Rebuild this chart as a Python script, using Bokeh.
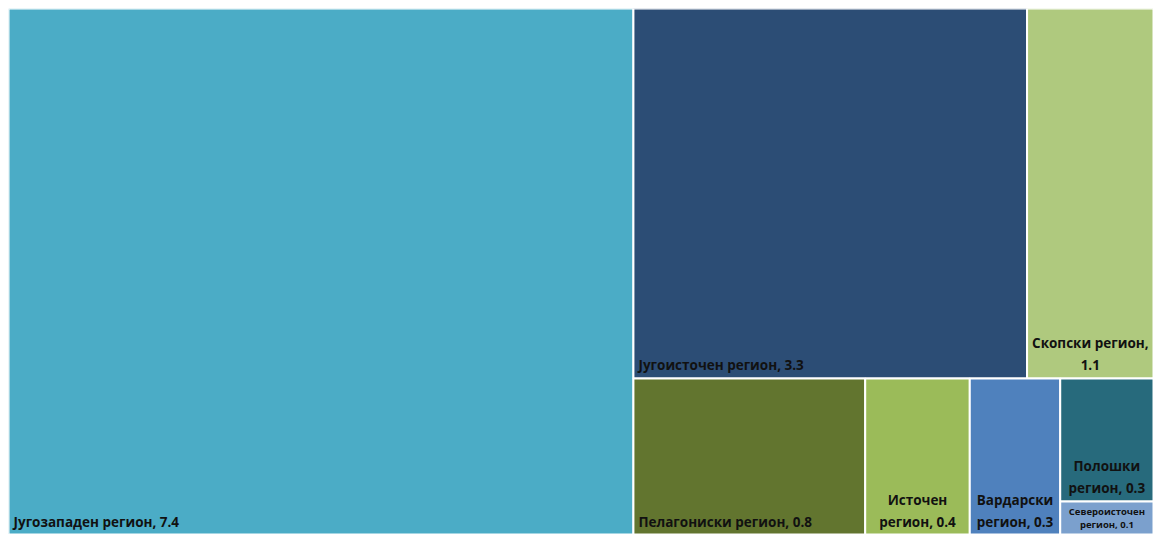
from bokeh.plotting import figure
from bokeh.models import ColumnDataSource, Range1d
from bokeh.core.properties import value
from bokeh.embed import file_html
from bokeh.resources import INLINE

# ---- data ----
regions = ["Југозападен регион", "Југоисточен регион", "Скопски регион",
           "Пелагониски регион", "Источен регион", "Вардарски регион",
           "Полошки регион", "Североисточен регион"]
values = [7.45, 3.30, 1.06, 0.82, 0.37, 0.32, 0.26, 0.07]
labels = ["Југозападен регион, 7.4", "Југоисточен регион, 3.3", "Скопски регион,\n1.1",
          "Пелагониски регион, 0.8", "Источен\nрегион, 0.4", "Вардарски\nрегион, 0.3",
          "Полошки\nрегион, 0.3", "Североисточен\nрегион, 0.1"]
colors = ["#4BACC6", "#2C4D75", "#AFC97E", "#62752F", "#9BBB59", "#4F81BD", "#276A7C", "#7BA0CD"]

# grouping of the treemap (indices into the lists above)
tree = [0, [[1, 2], [3, 4, 5, [6, 7]]]]

W, H = 1145, 526
M = 8


def total(node):
    if isinstance(node, list):
        return sum(total(n) for n in node)
    return values[node]


rects = {}


def layout(node, x0, y0, x1, y1, horizontal):
    if not isinstance(node, list):
        rects[node] = (x0, y0, x1, y1)
        return
    t = total(node)
    if horizontal:
        x = x0
        for n in node:
            w = (x1 - x0) * total(n) / t
            layout(n, x, y0, x + w, y1, not horizontal)
            x += w
    else:
        y = y1  # top down
        for n in node:
            h = (y1 - y0) * total(n) / t
            layout(n, x0, y - h, x1, y, not horizontal)
            y -= h


layout(tree, 0, 0, W, H, True)

n = len(regions)
xs = [(rects[i][0] + rects[i][2]) / 2 for i in range(n)]
ys = [(rects[i][1] + rects[i][3]) / 2 for i in range(n)]
ws = [rects[i][2] - rects[i][0] for i in range(n)]
hs = [rects[i][3] - rects[i][1] for i in range(n)]

p = figure(width=W + M, height=H + M, output_backend="svg", toolbar_location=None,
           x_range=Range1d(0, W), y_range=Range1d(0, H),
           min_border=0, min_border_left=M, min_border_right=0,
           min_border_top=M, min_border_bottom=0)
p.axis.visible = False
p.grid.visible = False
p.outline_line_color = None
p.background_fill_color = "white"
p.border_fill_color = "white"

src = ColumnDataSource(dict(x=xs, y=ys, w=ws, h=hs, c=colors, name=regions))
p.rect(x="x", y="y", width="w", height="h", fill_color="c", line_color="white",
       line_width=2, source=src)

# labels
tx, ty, tt, tyo, talign, tsize = [], [], [], [], [], []
for i in range(n):
    x0, y0, x1, y1 = rects[i]
    lines = labels[i].split("\n")
    small = hs[i] < 50
    lh = 13 if small else 22
    pad = 10 if small else 13
    multi = len(lines) > 1
    for k, line in enumerate(reversed(lines)):
        tt.append(line)
        ty.append(y0)
        tyo.append(-(pad + k * lh))
        if multi:
            tx.append((x0 + x1) / 2)
            talign.append("center")
        else:
            tx.append(x0 + 5)
            talign.append("left")
        tsize.append("9.5px" if small else "13.5px")

tsrc = ColumnDataSource(dict(x=tx, y=ty, t=tt, yo=tyo, a=talign, s=tsize))
p.text(x="x", y="y", text="t", y_offset="yo", text_align="a", text_baseline="middle",
       text_font=value("Open Sans"), text_font_style="bold", text_font_size="s",
       text_color="#111111", source=tsrc)

open("out.html", "w").write(file_html(p, INLINE))
